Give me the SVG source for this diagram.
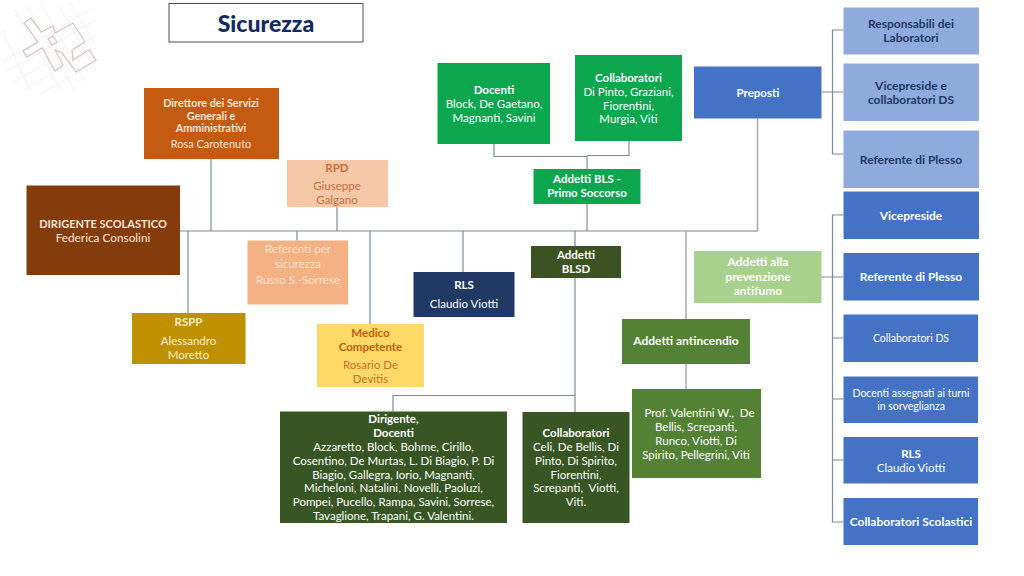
<svg xmlns="http://www.w3.org/2000/svg" width="1024" height="576" viewBox="0 0 1024 576">
<style>
text{font-family:Lato,"Open Sans","Liberation Sans",sans-serif;font-size:11.5px;text-anchor:middle;fill:#fff;white-space:pre}
.b{font-weight:700}
.w{font-size:12px}
.c{fill:none;stroke:#7f8a99;stroke-width:1.2}
.c2{fill:none;stroke:#a5a9b0;stroke-width:1.5}
.lg{fill:none;stroke:#eceeee;stroke-width:.8}
.lr{fill:none;stroke:#dfc3c0;stroke-width:1.3}
.lt{fill:#8faadc}.dk{fill:#4472c4}.nv{fill:#1f3864}.dg{fill:#375623}.mg{fill:#548235}.gr{fill:#0ca64f}
.t{fill:#fbe6d8}
</style>
<rect width="1024" height="576" fill="#fff"/>
<g id="logo">
<path class="lg" d="M2 62L92 8M6 72L96 20M14 82L96 36M24 90L96 48M40 94L96 62M14 8L62 92M26 4L74 90M40 2L86 84M58 4L96 70M2 30L30 90M70 2L96 46"/>
<path class="lr" d="M24 23L31 18L41 32L53 26L55 33L73 23L85 42L72 50L73 60L89 50L96 60L76 72L62 53L55 50L63 65L55 71L42 48L27 57L23 51L38 42Z"/>
<path class="lr" d="M48 39L53 36L57 42L52 45Z"/>
</g>
<g id="connectors">
<path class="c" d="M180 231H686M211 159V231M337 207V231M297 231V240.500M188 231V313M370 231V324M463 231V272M587 204V231M575 231V246M575 278V412M393 411.500V395.500H575M587 169V156M494 144V156.500H587M629 141V155.500H587"/>
<path class="c2" d="M686 231H757.500V118.500M686 231V319M686 364V389"/>
<path class="c" d="M821.500 92H843.500M843.500 30H832.500V154H843.500M821 277H843.500M843.500 215H832.500V522H843.500M832.500 338H843.500M832.500 399H843.500M832.500 460H843.500"/>
</g>
<g id="title"><rect x="169" y="3.500" width="194" height="38.500" fill="#fff" stroke="#4a4f5a" stroke-width="1"/><text x="266" y="32" class="b" style="font-size:23px;font-weight:900;fill:#14295e">Sicurezza</text></g>
<g id="direttore"><rect x="144" y="88" width="135" height="71" fill="#c55a11"/><text x="211" y="107" class="b t" style="font-size:10.800px">Direttore dei Servizi</text><text x="211" y="119.500" class="b t" style="font-size:10.800px">Generali e</text><text x="211" y="132" class="b t" style="font-size:10.800px">Amministrativi</text><text x="211" y="148" class="t" style="font-size:11px">Rosa Carotenuto</text></g>
<g id="rpd"><rect x="287" y="160" width="101" height="47" fill="#f6c8a8"/><text x="337" y="172" class="b" style="fill:#c5703a">RPD</text><text x="337" y="190" style="fill:#c5703a">Giuseppe</text><text x="337" y="204" style="fill:#c5703a">Galgano</text></g>
<g id="dirigente"><rect x="26.500" y="185.500" width="153.500" height="89.500" fill="#843c0c"/><text x="103" y="228" class="b t" style="font-size:11px">DIRIGENTE SCOLASTICO</text><text x="103" y="242" class="t" style="font-size:11.800px">Federica Consolini</text></g>
<g id="referenti"><rect x="247.500" y="240.500" width="100.500" height="64" fill="#f4b183"/><text x="298" y="253" style="fill:#fbe3d2">Referenti per</text><text x="298" y="268" style="fill:#fbe3d2">sicurezza</text><text x="298" y="284" style="fill:#fbe3d2">Russo S.-Sorrese</text></g>
<g id="rspp"><rect x="132" y="313" width="113.500" height="51" fill="#bf9000"/><text x="188.500" y="326" class="b" style="fill:#fdeecb">RSPP</text><text x="188.500" y="345" style="fill:#fdeecb">Alessandro</text><text x="188.500" y="359" style="fill:#fdeecb">Moretto</text></g>
<g id="medico"><rect x="317" y="324" width="107" height="63" fill="#ffd966"/><text x="370.500" y="337" class="b" style="fill:#c55a11">Medico</text><text x="370.500" y="351" class="b" style="fill:#c55a11">Competente</text><text x="370.500" y="369" style="fill:#c5702a">Rosario De</text><text x="370.500" y="383" style="fill:#c5702a">Devitis</text></g>
<g id="rls"><rect x="413.500" y="272" width="101" height="45" class="nv"/><text x="464" y="289" class="b">RLS</text><text x="464" y="308">Claudio Viotti</text></g>
<g id="addetti-blsd"><rect x="531" y="246" width="90" height="32" fill="#3b5323"/><text x="576" y="259" class="b">Addetti</text><text x="576" y="273" class="b">BLSD</text></g>
<g id="dirigente-docenti"><rect x="280" y="411.500" width="227" height="111.500" class="dg"/><text x="393.500" y="423" class="b">Dirigente,</text><text x="393.500" y="437" class="b">Docenti</text><text x="393.500" y="451">Azzaretto, Block, Bohme, Cirillo,</text><text x="393.500" y="465">Cosentino, De Murtas, L. Di Biagio, P. Di</text><text x="393.500" y="479">Biagio, Gallegra, Iorio, Magnanti,</text><text x="393.500" y="492">Micheloni, Natalini, Novelli, Paoluzi,</text><text x="393.500" y="506">Pompei, Pucello, Rampa, Savini, Sorrese,</text><text x="393.500" y="520">Tavaglione, Trapani, G. Valentini.</text></g>
<g id="collaboratori-blsd"><rect x="522.500" y="412" width="107" height="111" class="dg"/><text x="576" y="437" class="b">Collaboratori</text><text x="576" y="451">Celi, De Bellis, Di</text><text x="576" y="465">Pinto, Di Spirito,</text><text x="576" y="479">Fiorentini,</text><text x="576" y="492">Screpanti,  Viotti,</text><text x="576" y="506">Viti.</text></g>
<g id="antincendio"><rect x="622" y="319" width="128" height="45" class="mg"/><text x="686" y="345" class="b w">Addetti antincendio</text></g>
<g id="prof"><rect x="632" y="389" width="129" height="89" class="mg"/><text x="699.500" y="417">Prof. Valentini W.,  De</text><text x="696" y="431">Bellis, Screpanti,</text><text x="696" y="445">Runco, Viotti, Di</text><text x="696" y="459">Spirito, Pellegrini, Viti</text></g>
<g id="antifumo"><rect x="694" y="251" width="127.500" height="52" fill="#a9d18e"/><text x="758" y="266" class="b w">Addetti alla</text><text x="758" y="281" class="b w">prevenzione</text><text x="758" y="295" class="b w">antifumo</text></g>
<g id="docenti"><rect x="437.500" y="63" width="112.500" height="81" class="gr"/><text x="494" y="94" class="b">Docenti</text><text x="494" y="108">Block, De Gaetano,</text><text x="494" y="122">Magnanti, Savini</text></g>
<g id="collaboratori-bls"><rect x="575" y="55" width="107" height="86" class="gr"/><text x="628.500" y="82" class="b">Collaboratori</text><text x="628.500" y="96">Di Pinto, Graziani,</text><text x="628.500" y="110">Fiorentini,</text><text x="628.500" y="123">Murgia, Viti</text></g>
<g id="addetti-bls"><rect x="533.500" y="169" width="107" height="35" class="gr"/><text x="587" y="183" class="b">Addetti BLS -</text><text x="587" y="197" class="b">Primo Soccorso</text></g>
<g id="preposti"><rect x="694" y="66.500" width="127.500" height="52" class="dk"/><text x="758" y="97" class="b">Preposti</text></g>
<g id="responsabili"><rect x="843.500" y="7.500" width="135.500" height="47" class="lt"/><text x="911" y="28" class="b w" style="fill:#1f3864">Responsabili dei</text><text x="911" y="42" class="b w" style="fill:#1f3864">Laboratori</text></g>
<g id="vicepreside-collab"><rect x="843.500" y="63.500" width="135.500" height="57.500" class="lt"/><text x="911" y="90" class="b w" style="fill:#1f3864">Vicepreside e</text><text x="911" y="104" class="b w" style="fill:#1f3864">collaboratori DS</text></g>
<g id="referente-light"><rect x="843.500" y="130.500" width="135.500" height="57.500" class="lt"/><text x="911" y="164" class="b w" style="fill:#1f3864">Referente di Plesso</text></g>
<g id="vicepreside"><rect x="843.500" y="191.500" width="135.500" height="47.500" class="dk"/><text x="911" y="220" class="b w">Vicepreside</text></g>
<g id="referente"><rect x="843.500" y="253" width="135.500" height="47.500" class="dk"/><text x="911" y="281" class="b w">Referente di Plesso</text></g>
<g id="collaboratori-ds"><rect x="843.500" y="314.500" width="134.500" height="47.500" class="dk"/><text x="911" y="342" style="font-size:10.500px">Collaboratori DS</text></g>
<g id="docenti-turni"><rect x="843.500" y="376.500" width="134.500" height="46.500" class="dk"/><text x="911" y="397" style="font-size:10.500px">Docenti assegnati ai turni</text><text x="911" y="410" style="font-size:10.500px">in sorveglianza</text></g>
<g id="rls-right"><rect x="843.500" y="437" width="134.500" height="46.500" class="dk"/><text x="911" y="458" class="b">RLS</text><text x="911" y="472">Claudio Viotti</text></g>
<g id="collaboratori-scolastici"><rect x="843.500" y="498" width="134.500" height="47" class="dk"/><text x="911" y="526" class="b w">Collaboratori Scolastici</text></g>
</svg>
